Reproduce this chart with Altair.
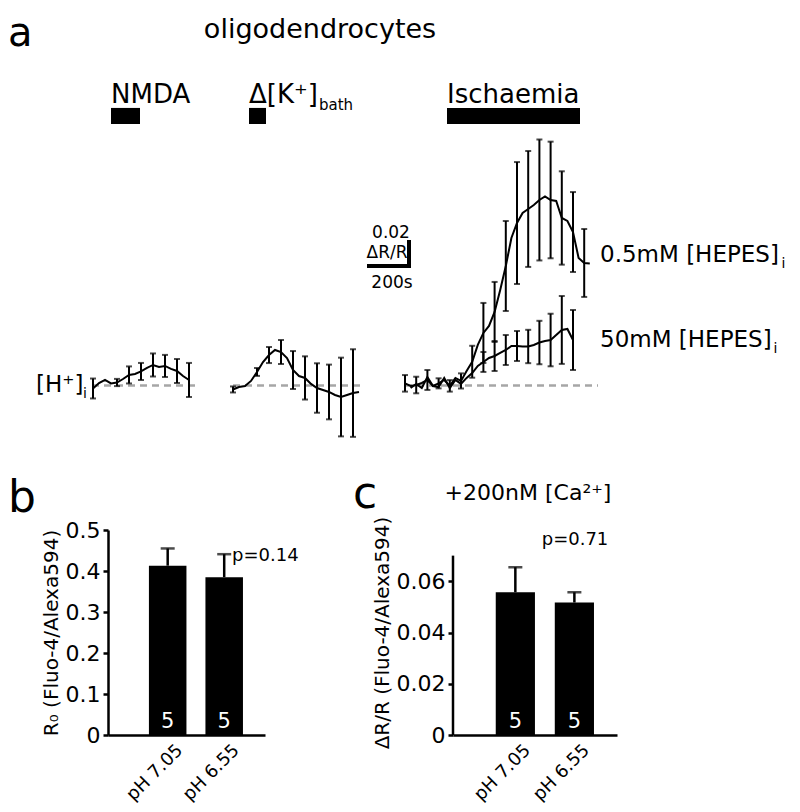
import altair as alt
import pandas as pd

FONT = "DejaVu Sans"

# ---------------- Panel a: mean traces (ΔR/R) ----------------
NMDA_V = [-0.0025, 0.0020, 0.0046, 0.0017, 0.0025, 0.0054, 0.0088, 0.0096, 0.0117,
          0.0146, 0.0171, 0.0154, 0.0163, 0.0138, 0.0121, 0.0079, 0.0046]
NMDA_E = [0.0083, None, None, None, 0.0030, None, 0.0071, None, 0.0071,
          None, 0.0096, None, 0.0092, None, 0.0100, None, 0.0142]

K_V = [-0.0033, -0.0013, -0.0004, 0.0038, 0.0113, 0.0196, 0.0254, 0.0296, 0.0279,
       0.0229, 0.0129, 0.0079, 0.0063, 0.0013, -0.0021, -0.0038, -0.0054, -0.0079,
       -0.0096, -0.0079, -0.0063, -0.0054]
K_E = [0.0025, None, None, None, 0.0033, None, 0.0067, None, 0.0100, None, 0.0158,
       None, 0.0180, None, 0.0206, None, 0.0228, None, 0.0328, None, 0.0365, None]

ISCH05_V = [0.0018, -0.0004, 0.0004, 0.0021, 0.0046, -0.0004, 0.0018, 0.0046, -0.0003,
            0.0063, 0.0038, 0.0121, 0.0198, 0.0338, 0.0438, 0.0496, 0.0613, 0.0796,
            0.0996, 0.1229, 0.1354, 0.1438, 0.1471, 0.1504, 0.1546, 0.1575, 0.1546,
            0.1538, 0.1396, 0.1371, 0.1279, 0.1063, 0.1021, 0.1017]
ISCH05_E = [0.0069, None, 0.0069, None, 0.0083, None, 0.0042, None, 0.0048, None,
            0.0063, None, 0.0133, None, 0.0250, None, 0.0250, None, 0.0375, None,
            0.0508, None, 0.0483, None, 0.0504, None, 0.0486, None, 0.0389, None,
            0.0333, None, 0.0283, None]

ISCH50_V = [-0.0021, 0.0013, -0.0021, 0.0071, -0.0004, -0.0013, 0.0063, -0.0021, 0.0046,
            0.0013, 0.0063, 0.0104, 0.0163, 0.0196, 0.0229, 0.0246, 0.0271, 0.0296,
            0.0329, 0.0329, 0.0325, 0.0325, 0.0338, 0.0358, 0.0371, 0.0379, 0.0421,
            0.0463, 0.0471, 0.0379]
ISCH50_E = [None, None, None, None, None, None, None, None, None, None, None, None,
            None, 0.0083, None, 0.0125, None, 0.0125, None, 0.0125, None, 0.0139,
            None, 0.0181, None, 0.0219, None, 0.0283, None, 0.0250]

NMDA_DT, K_DT, ISCH_DT = 30, 30, 28          # sampling interval (s)
STIM_ON = [490, 1180, 2170]                   # application onset (s, figure time)
STIM_OFF = [635, 1265, 2835]                  # application offset
SCALE_DV, SCALE_DT = 0.02, 200                # scale bar: 0.02 ΔR/R, 200 s

# ---------------- Panels b, c ----------------
COND = ["pH 7.05", "pH 6.55"]
B_MEAN = [0.413, 0.385]
B_SEM = [0.042, 0.056]
C_MEAN = [0.0557, 0.0517]
C_SEM = [0.0098, 0.0040]
N_CELLS = [5, 5]

# ---------------- layout constants ----------------
NMDA_START, K_START, ISCH_START = 400, 1100, 1960
XA = alt.Scale(domain=[475, 3875])
YA = alt.Scale(domain=[-0.05792, 0.31458])
A_W, A_H = 680, 447
STIM_BAR = (0.2179, 0.2313)


def ax(f):
    return alt.X(f, type="quantitative", scale=XA, axis=None)


def ay(f):
    return alt.Y(f, type="quantitative", scale=YA, axis=None)


def trace_rows(name, start, dt, vals, errs, first=0):
    rows = []
    for i, (v, e) in enumerate(zip(vals, errs)):
        rows.append({"trace": name, "t": start + (i + first) * dt, "v": v, "e": e})
    return rows


rows = (trace_rows("NMDA", NMDA_START, NMDA_DT, NMDA_V, NMDA_E)
        + trace_rows("K", K_START, K_DT, K_V, K_E)
        + trace_rows("I05", ISCH_START, ISCH_DT, ISCH05_V, ISCH05_E)
        + trace_rows("I50", ISCH_START, ISCH_DT, ISCH50_V, ISCH50_E, first=1))
tr = pd.DataFrame(rows)
er = tr[tr["e"].notna()].copy()
er["lo"] = er["v"] - er["e"]
er["hi"] = er["v"] + er["e"]
er = er[["trace", "t", "lo", "hi"]]
tr = tr[["trace", "t", "v"]]

base = pd.DataFrame({"t0": [395, 1100, 1960], "t1": [910, 1745, 2925], "zero": [0.0, 0.0, 0.0]})
stim = pd.DataFrame({"t0": STIM_ON, "t1": STIM_OFF,
                     "y0": [STIM_BAR[0]] * 3, "y1": [STIM_BAR[1]] * 3})
sb_t1 = 1980
sb_v0 = 0.0996
sb = pd.DataFrame({"t0": [sb_t1 - SCALE_DT], "t1": [sb_t1], "v0": [sb_v0], "v1": [sb_v0 + SCALE_DV]})


def label(text, t, v, size, align="left", baseline="alphabetic"):
    d = pd.DataFrame({"t": [t], "v": [v], "s": [text]})
    return alt.Chart(d).mark_text(align=align, baseline=baseline, fontSize=size,
                                  font=FONT, color="black").encode(
        x=ax("t"), y=ay("v"), text="s:N")


layers = [
    alt.Chart(base).mark_rule(color="#a6a6a6", strokeDash=[7, 5], strokeWidth=2.5).encode(
        x=ax("t0"), x2="t1", y=ay("zero")),
    alt.Chart(tr).mark_line(color="black", strokeWidth=2).encode(
        x=ax("t"), y=ay("v"), detail="trace:N"),
    alt.Chart(er).mark_rule(color="black", strokeWidth=2).encode(x=ax("t"), y=ay("lo"), y2="hi"),
    alt.Chart(er).mark_tick(orient="horizontal", color="black", size=6, thickness=2).encode(
        x=ax("t"), y=ay("lo")),
    alt.Chart(er).mark_tick(orient="horizontal", color="black", size=6, thickness=2).encode(
        x=ax("t"), y=ay("hi")),
    alt.Chart(stim).mark_rect(color="black").encode(
        x=ax("t0"), x2="t1", y=ay("y1"), y2="y0"),
    alt.Chart(sb).mark_rule(color="black", strokeWidth=4, strokeCap="square").encode(
        x=ax("t1"), y=ay("v0"), y2="v1"),
    alt.Chart(sb).mark_rule(color="black", strokeWidth=4, strokeCap="square").encode(
        x=ax("t0"), x2="t1", y=ay("v0")),
    label("a", -25, 0.2833, 40),
    label("oligodendrocytes", 1535, 0.2896, 27, align="center"),
    label("NMDA", 490, 0.2354, 26),
    label("Δ[K⁺]", 1180, 0.2354, 26),
    label("bath", 1530, 0.2296, 15),
    label("Ischaemia", 2170, 0.2354, 26),
    label("0.02", 1890, 0.1229, 17, align="center"),
    label("ΔR/R", 1870, 0.1063, 17, align="center"),
    label("200s", 1895, 0.0813, 17, align="center"),
    label("0.5mM [HEPES]", 2935, 0.1029, 23),
    label("i", 3842, 0.0979, 14),
    label("50mM [HEPES]", 2935, 0.0321, 23),
    label("i", 3802, 0.0271, 14),
    label("[H⁺]", 115, -0.0054, 23),
    label("i", 350, -0.0104, 14),
]
panel_a = alt.layer(*layers).properties(width=A_W, height=A_H)


def bar_panel(mean, sem, ydom, yvals, fmt, title, show_domain):
    d = pd.DataFrame({"cond": COND, "mean": mean, "hi": [m + s for m, s in zip(mean, sem)],
                      "n": N_CELLS, "zero": [0.0] * len(COND)})
    xs = alt.X("cond:N", sort=None,
               scale=alt.Scale(paddingInner=0.336, paddingOuter=0.557, align=0.65),
               axis=alt.Axis(title=None, labelAngle=315, labelFontSize=18, ticks=False,
                             domainWidth=2.5, labelPadding=6, labelOffset=6, labelFont=FONT))
    ys = alt.Y("mean:Q", scale=alt.Scale(domain=ydom),
               axis=alt.Axis(values=yvals,
                             labelExpr="datum.value == 0 ? '0' : format(datum.value, '%s')" % fmt,
                             title=title, titleFontSize=20, titleFontWeight="normal",
                             labelFontSize=22, tickSize=5, tickWidth=2.5, domainWidth=2.5,
                             domain=show_domain, labelOverlap=False, labelPadding=3,
                             titlePadding=4, grid=False))
    xc = alt.X("cond:N", sort=None)
    bars = alt.Chart(d).mark_bar(color="black").encode(x=xs, y=ys)
    err = alt.Chart(d).mark_rule(color="black", strokeWidth=2.5).encode(
        x=xc, y="mean:Q", y2="hi:Q")
    cap = alt.Chart(d).mark_tick(orient="horizontal", color="black", size=14, thickness=2.5).encode(
        x=xc, y="hi:Q")
    nums = alt.Chart(d).mark_text(color="white", fontSize=21, font=FONT, dy=-7,
                                  baseline="alphabetic").encode(
        x=xc, y="zero:Q", text="n:Q")
    return [bars, err, cap, nums]


def txt(s, x, y, size, align="left"):
    return alt.Chart(pd.DataFrame({"s": [s]})).mark_text(
        align=align, baseline="alphabetic", fontSize=size, font=FONT, color="black").encode(
        x=alt.value(x), y=alt.value(y), text="s:N")


b_layers = bar_panel(B_MEAN, B_SEM, [0, 0.5], [0, 0.1, 0.2, 0.3, 0.4, 0.5], ".1f",
                     "R₀ (Fluo-4/Alexa594)", True)
panel_b = alt.layer(*b_layers, txt("b", -100, -18, 44), txt("p=0.14", 124, 31, 18)).properties(
    width=157, height=205)

c_layers = bar_panel(C_MEAN, C_SEM, [0, 0.07366], [0, 0.02, 0.04, 0.06], ".2f",
                     "ΔR/R (Fluo-4/Alexa594)", False)
c_axis = alt.Chart(pd.DataFrame({"a": [0.0], "b": [0.07]})).mark_rule(
    color="black", strokeWidth=2.5).encode(x=alt.value(0), y="a:Q", y2="b:Q")
panel_c = alt.layer(*c_layers, c_axis, txt("c", -100, -22, 44),
                    txt("+200nM [Ca²⁺]", 75, -30, 22, align="center"),
                    txt("p=0.71", 122, 15, 18, align="center")).properties(width=164, height=205)

chart = alt.vconcat(
    panel_a,
    alt.hconcat(panel_b, panel_c, spacing=54),
    spacing=18,
).properties(
    padding={"left": 0, "top": 0, "right": 0, "bottom": 0}
).configure_view(stroke=None).configure_axis(
    labelFont=FONT, titleFont=FONT, labelColor="black", titleColor="black",
    domainColor="black", tickColor="black"
).configure_text(font=FONT)

chart.save("out.html", embed_options={"renderer": "svg", "actions": False})
